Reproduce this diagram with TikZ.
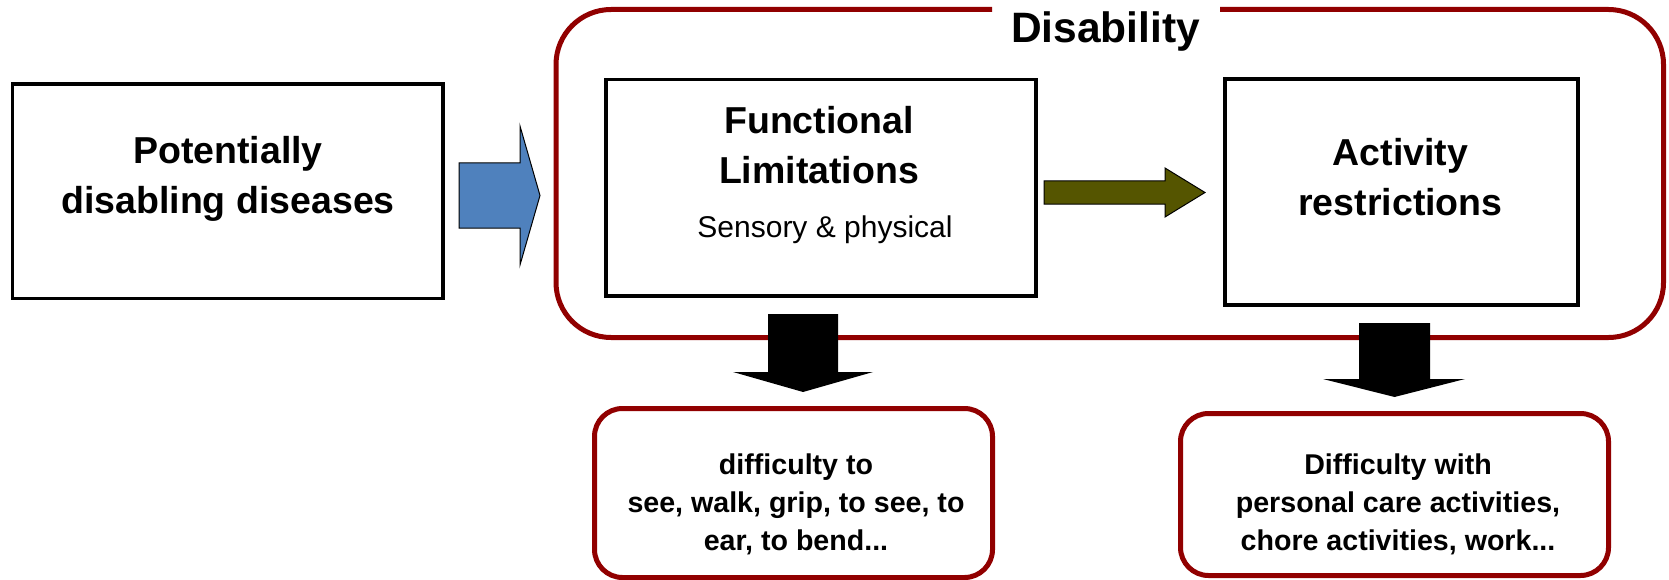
\documentclass[tikz,border=0pt]{standalone}
\usepackage{fontspec}
\setmainfont{Liberation Sans}
\definecolor{dred}{RGB}{145,0,0}
\definecolor{ablue}{RGB}{79,129,189}
\definecolor{aolive}{RGB}{85,85,0}
\begin{document}
\begin{tikzpicture}[x=1pt,y=-1pt,
  blackbox/.style={draw=black,line width=3.5pt,fill=white,inner sep=0pt},
  redbox/.style={draw=dred,line width=5pt,fill=white,rounded corners=28pt,inner sep=0pt},
  redline/.style={draw=dred,line width=5pt},
  bigtxt/.style={font=\fontsize{37.5}{50}\selectfont\bfseries,align=center,anchor=base,inner sep=0pt},
  subtxt/.style={font=\fontsize{30}{36}\selectfont,align=center,anchor=base,inner sep=0pt},
  smalltxt/.style={font=\fontsize{28.6}{38}\selectfont\bfseries,align=center,anchor=base,inner sep=0pt},
  blockarrow/.style={draw=black,line width=1pt,line join=miter}]
\useasboundingbox (0,0) rectangle (1669,580);
% Disability group frame
\draw[redline,rounded corners=55pt] (992,9.5) -- (556,9.5) -- (556,337.5) -- (1663.5,337.5) -- (1663.5,9.5) -- (1220,9.5);
\node[font=\fontsize{42.5}{50}\selectfont\bfseries,anchor=base,inner sep=0pt] (distitle) at (1105.5,43) {Disability};
% boxes
\node[blackbox,minimum width=430.5pt,minimum height=214.5pt] (diseases) at (227.75,191.25) {};
\node[blackbox,minimum width=430pt,minimum height=216.5pt] (functional) at (821,187.75) {};
\node[blackbox,minimum width=353pt,minimum height=226pt] (activity) at (1401.5,192) {};
\node[redbox,minimum width=398pt,minimum height=169pt] (diffsee) at (793.5,493) {};
\node[redbox,minimum width=428pt,minimum height=162pt] (diffcare) at (1394.5,494.5) {};
% texts (base anchor = baseline of the last line)
\node[bigtxt] (t1) at (228,213) {Potentially\\disabling diseases};
\node[bigtxt] (t2) at (819,184) {Functional\\Limitations};
\node[subtxt] (t3) at (825,237) {Sensory \& physical};
\node[bigtxt] (t4) at (1400.5,215) {Activity\\restrictions};
\node[smalltxt] (t5) at (796,550) {difficulty to\\see, walk, grip, to see, to\\ear, to bend...};
\node[smalltxt] (t6) at (1398,550) {Difficulty with\\personal care activities,\\chore activities, work...};
% block arrows
\filldraw[blockarrow,fill=ablue] (459,163) -- (520,163) -- (520,126) -- (540,195.5) -- (520,265) -- (520,228) -- (459,228) -- cycle;
\filldraw[blockarrow,fill=aolive] (1044,181) -- (1165,181) -- (1165,168) -- (1205,192.5) -- (1165,217) -- (1165,204) -- (1044,204) -- cycle;
\fill[black] (768,314) -- (838,314) -- (838,372) -- (873,372) -- (803,392) -- (733,372) -- (768,372) -- cycle;
\fill[black] (1359,323) -- (1430,323) -- (1430,379) -- (1465,379) -- (1394.5,397) -- (1323,379) -- (1359,379) -- cycle;
\end{tikzpicture}
\end{document}
